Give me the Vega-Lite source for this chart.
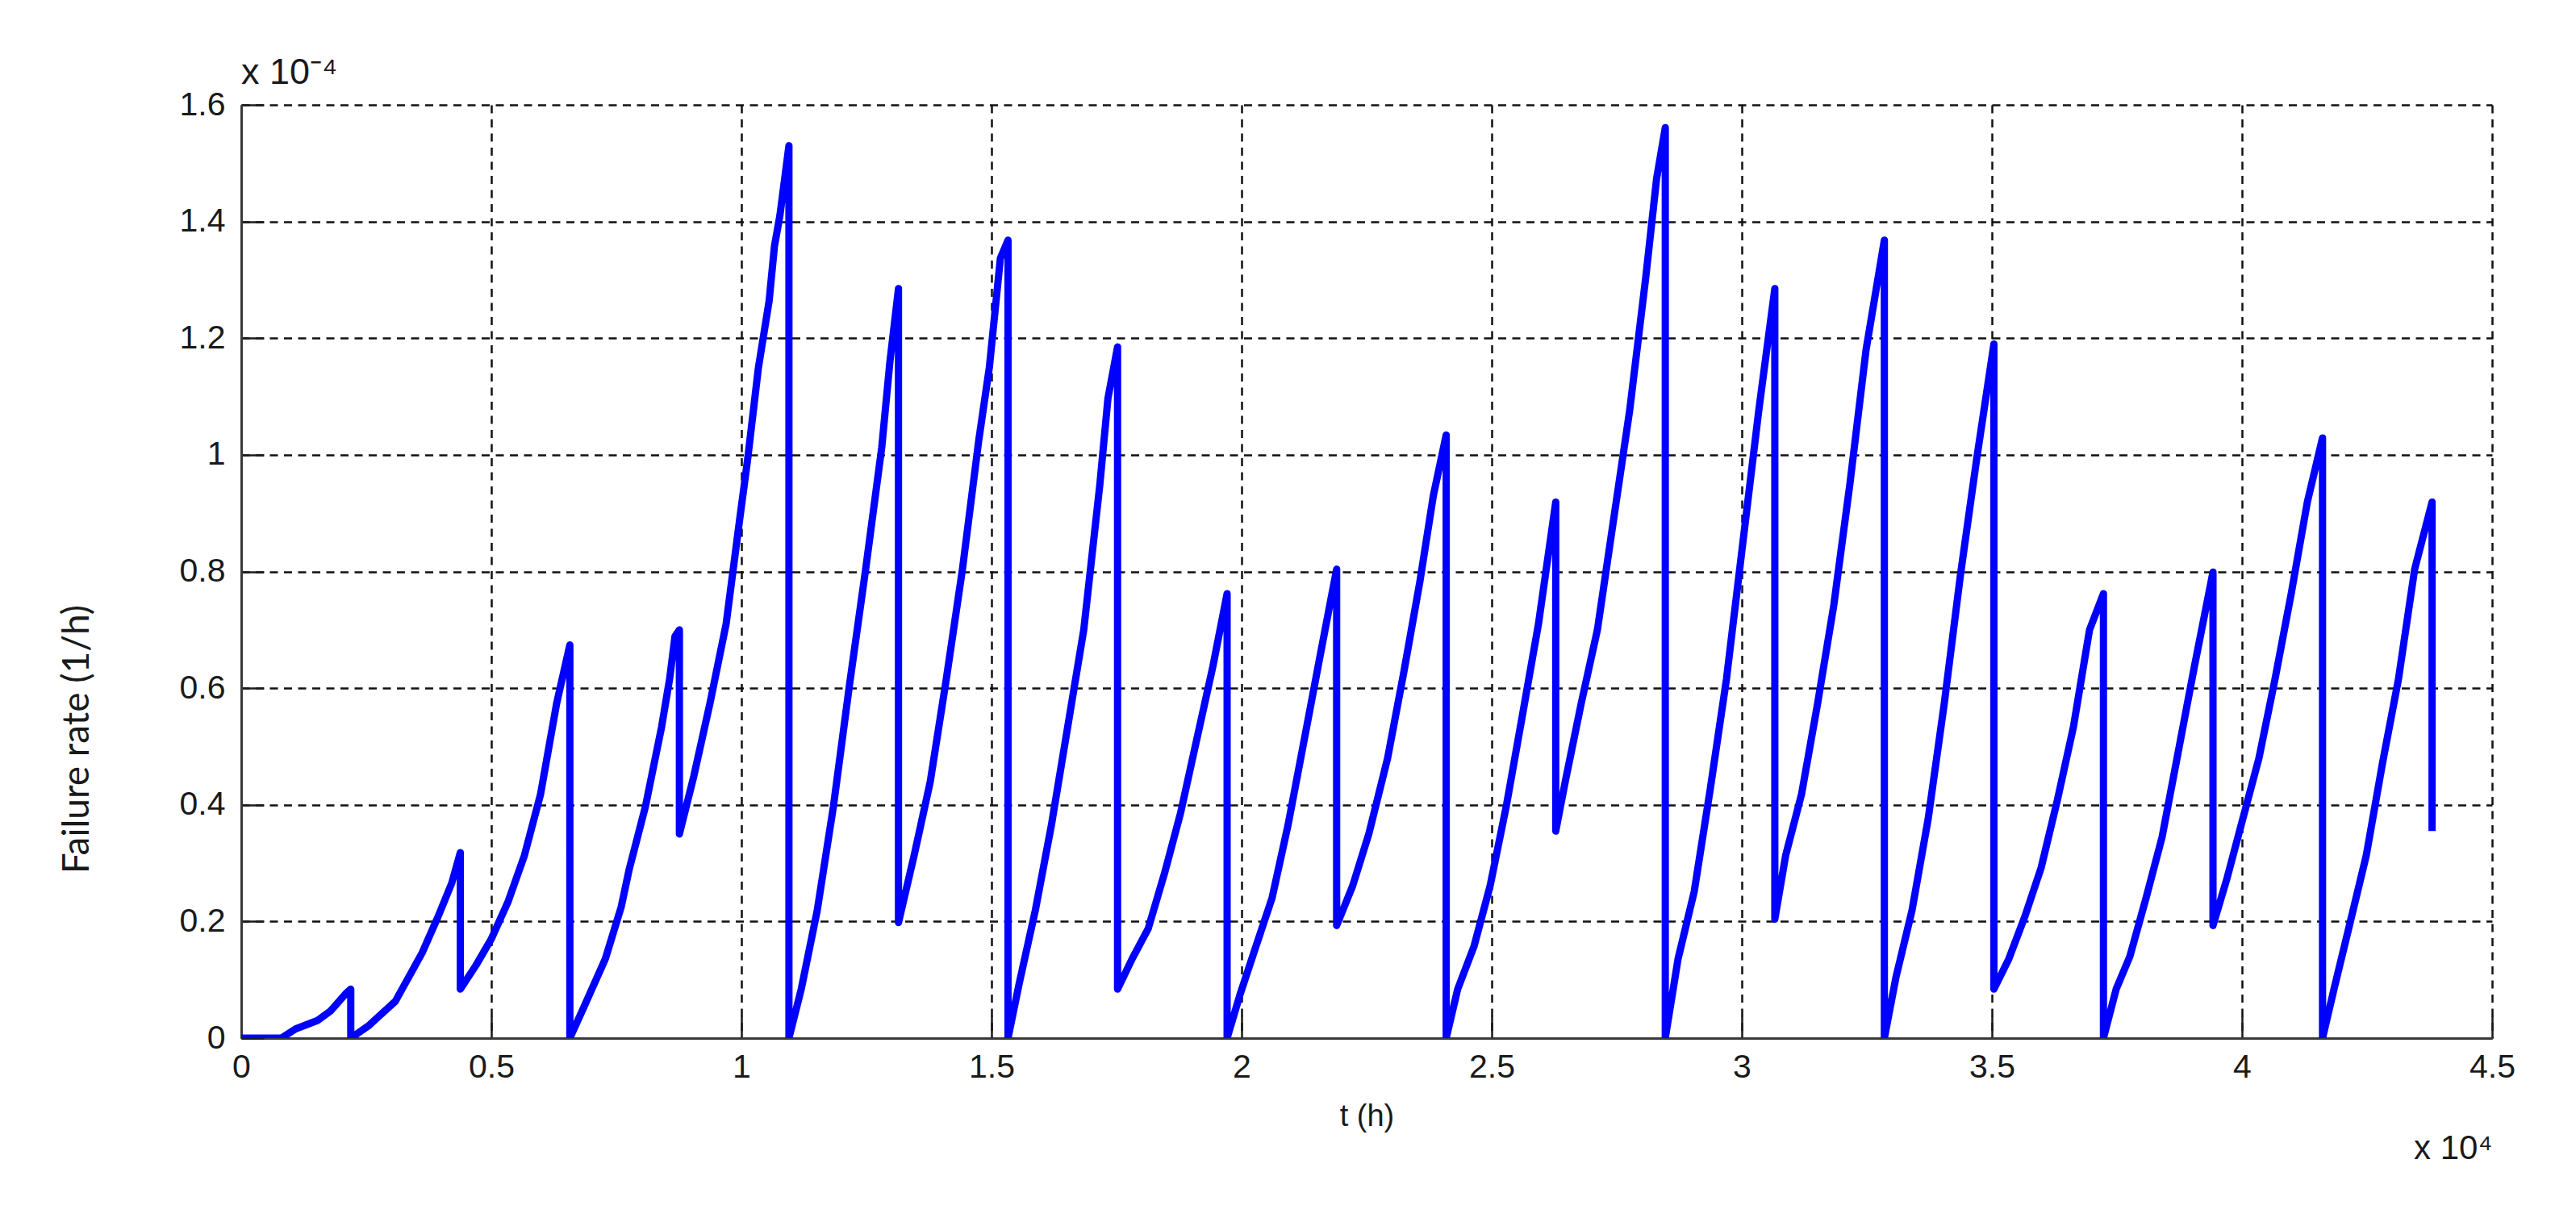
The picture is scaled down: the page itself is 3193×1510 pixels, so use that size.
{
  "$schema": "https://vega.github.io/schema/vega-lite/v6.json",
  "autosize": "none",
  "width": 2790,
  "height": 1157,
  "padding": {"left": 299, "top": 130, "right": 104, "bottom": 223},
  "background": "white",
  "title": {
    "text": "x 10⁻⁴",
    "anchor": "start",
    "frame": "group",
    "font": "Liberation Sans",
    "fontSize": 45,
    "fontWeight": "normal",
    "color": "#1a1a1a",
    "offset": -4
  },
  "data": {
    "values": [
      {"t":0,"rate":0},{"t":800,"rate":0},{"t":1090,"rate":0.016},{"t":1520,"rate":0.03},{"t":1790,"rate":0.047},{"t":2110,"rate":0.078},{"t":2190,"rate":0.084},
      {"t":2190,"rate":0},{"t":2543,"rate":0.021},{"t":3081,"rate":0.063},{"t":3616,"rate":0.146},{"t":3939,"rate":0.209},{"t":4210,"rate":0.266},{"t":4380,"rate":0.318},
      {"t":4380,"rate":0.084},{"t":4694,"rate":0.125},{"t":5000,"rate":0.17},{"t":5340,"rate":0.235},{"t":5661,"rate":0.313},{"t":5984,"rate":0.418},{"t":6306,"rate":0.574},{"t":6570,"rate":0.674},
      {"t":6570,"rate":0},{"t":6844,"rate":0.052},{"t":7280,"rate":0.136},{"t":7597,"rate":0.225},{"t":7758,"rate":0.29},{"t":8081,"rate":0.397},{"t":8403,"rate":0.533},{"t":8565,"rate":0.616},{"t":8672,"rate":0.689},{"t":8760,"rate":0.70},
      {"t":8760,"rate":0.35},{"t":9048,"rate":0.449},{"t":9371,"rate":0.574},{"t":9694,"rate":0.71},{"t":9963,"rate":0.888},{"t":10124,"rate":0.992},{"t":10339,"rate":1.149},{"t":10554,"rate":1.264},{"t":10661,"rate":1.358},{"t":10769,"rate":1.41},{"t":10950,"rate":1.53},
      {"t":10950,"rate":0},{"t":11196,"rate":0.084},{"t":11516,"rate":0.219},{"t":11839,"rate":0.397},{"t":12161,"rate":0.606},{"t":12484,"rate":0.804},{"t":12806,"rate":1.013},{"t":12968,"rate":1.159},{"t":13140,"rate":1.285},
      {"t":13140,"rate":0.198},{"t":13452,"rate":0.313},{"t":13774,"rate":0.439},{"t":14097,"rate":0.616},{"t":14419,"rate":0.804},{"t":14742,"rate":1.023},{"t":14957,"rate":1.15},{"t":15177,"rate":1.337},{"t":15330,"rate":1.368},
      {"t":15330,"rate":0},{"t":15554,"rate":0.094},{"t":15876,"rate":0.219},{"t":16199,"rate":0.366},{"t":16522,"rate":0.533},{"t":16844,"rate":0.70},{"t":17167,"rate":0.95},{"t":17328,"rate":1.097},{"t":17520,"rate":1.185},
      {"t":17520,"rate":0.084},{"t":17812,"rate":0.136},{"t":18134,"rate":0.188},{"t":18457,"rate":0.282},{"t":18780,"rate":0.386},{"t":19103,"rate":0.512},{"t":19425,"rate":0.637},{"t":19710,"rate":0.762},
      {"t":19710,"rate":0},{"t":19962,"rate":0.073},{"t":20285,"rate":0.157},{"t":20608,"rate":0.24},{"t":20930,"rate":0.366},{"t":21253,"rate":0.512},{"t":21575,"rate":0.658},{"t":21900,"rate":0.804},
      {"t":21900,"rate":0.193},{"t":22220,"rate":0.261},{"t":22543,"rate":0.35},{"t":22919,"rate":0.48},{"t":23242,"rate":0.627},{"t":23565,"rate":0.783},{"t":23833,"rate":0.93},{"t":24090,"rate":1.034},
      {"t":24090,"rate":0},{"t":24320,"rate":0.084},{"t":24645,"rate":0.157},{"t":24968,"rate":0.261},{"t":25290,"rate":0.397},{"t":25613,"rate":0.553},{"t":25935,"rate":0.71},{"t":26280,"rate":0.919},
      {"t":26280,"rate":0.355},{"t":26468,"rate":0.439},{"t":26790,"rate":0.574},{"t":27113,"rate":0.70},{"t":27435,"rate":0.888},{"t":27758,"rate":1.076},{"t":28081,"rate":1.305},{"t":28296,"rate":1.473},{"t":28470,"rate":1.561},
      {"t":28470,"rate":0},{"t":28726,"rate":0.136},{"t":29048,"rate":0.251},{"t":29371,"rate":0.428},{"t":29694,"rate":0.616},{"t":30016,"rate":0.846},{"t":30339,"rate":1.076},{"t":30660,"rate":1.285},
      {"t":30660,"rate":0.204},{"t":30876,"rate":0.313},{"t":31194,"rate":0.418},{"t":31516,"rate":0.574},{"t":31839,"rate":0.742},{"t":32161,"rate":0.95},{"t":32484,"rate":1.18},{"t":32850,"rate":1.368},
      {"t":32850,"rate":0},{"t":33081,"rate":0.104},{"t":33403,"rate":0.219},{"t":33726,"rate":0.376},{"t":34048,"rate":0.574},{"t":34371,"rate":0.794},{"t":34694,"rate":0.992},{"t":35040,"rate":1.19},
      {"t":35040,"rate":0.084},{"t":35339,"rate":0.136},{"t":35661,"rate":0.209},{"t":35984,"rate":0.292},{"t":36306,"rate":0.407},{"t":36629,"rate":0.533},{"t":36952,"rate":0.70},{"t":37230,"rate":0.762},
      {"t":37230,"rate":0},{"t":37484,"rate":0.084},{"t":37758,"rate":0.14},{"t":38081,"rate":0.24},{"t":38403,"rate":0.345},{"t":38726,"rate":0.491},{"t":39048,"rate":0.637},{"t":39420,"rate":0.799},
      {"t":39420,"rate":0.193},{"t":39694,"rate":0.272},{"t":40016,"rate":0.376},{"t":40339,"rate":0.48},{"t":40661,"rate":0.616},{"t":40984,"rate":0.762},{"t":41306,"rate":0.919},{"t":41610,"rate":1.029},
      {"t":41610,"rate":0},{"t":41839,"rate":0.084},{"t":42161,"rate":0.198},{"t":42484,"rate":0.313},{"t":42806,"rate":0.47},{"t":43129,"rate":0.616},{"t":43452,"rate":0.804},{"t":43800,"rate":0.919},
      {"t":43800,"rate":0.355}
    ]
  },
  "config": {
    "view": {"stroke": null},
    "axis": {
      "labelFont": "Liberation Sans",
      "labelFontSize": 41,
      "labelColor": "#1a1a1a",
      "titleColor": "#1a1a1a",
      "titleFontWeight": "normal",
      "domainColor": "#3a3a3a",
      "domainWidth": 3,
      "tickColor": "#1a1a1a",
      "tickWidth": 2.5,
      "tickSize": -28,
      "gridColor": "#111111",
      "gridOpacity": 1,
      "gridWidth": 2.5,
      "gridDash": [10, 7.5]
    }
  },
  "resolve": {"axis": {"x": "independent"}},
  "layer": [
    {
      "mark": {"type": "line", "color": "#0000FF", "strokeWidth": 9, "strokeJoin": "round", "strokeCap": "butt", "clip": true},
      "encoding": {
        "x": {
          "field": "t", "type": "quantitative",
          "scale": {"domain": [0, 45000], "nice": false, "zero": false},
          "axis": {
            "orient": "bottom",
            "values": [0,5000,10000,15000,20000,25000,30000,35000,40000,45000],
            "labelExpr": "format(datum.value/10000, '~g')",
            "labelPadding": 44,
            "labelFlush": false,
            "title": "t (h)",
            "titleFont": "Liberation Sans",
            "titleFontSize": 38,
            "titlePadding": 22
          }
        },
        "y": {
          "field": "rate", "type": "quantitative",
          "scale": {"domain": [0, 1.6], "nice": false},
          "axis": {
            "values": [0,0.2,0.4,0.6,0.8,1,1.2,1.4,1.6],
            "format": "~g",
            "labelPadding": 48,
            "labelFlush": false,
            "title": "Failure rate (1/h)",
            "titleFont": "Lato",
            "titleFontSize": 46,
            "titlePadding": 103,
            "titleY": 786
          }
        },
        "order": {"value": null}
      }
    },
    {
      "mark": {"type": "line", "opacity": 0},
      "encoding": {
        "x": {
          "field": "t", "type": "quantitative",
          "scale": {"domain": [0, 45000], "nice": false, "zero": false},
          "axis": {
            "orient": "bottom",
            "labels": false, "ticks": false, "domain": false, "grid": false,
            "title": "x 10⁴",
            "titleFont": "Liberation Sans",
            "titleFontSize": 42,
            "titleAnchor": "end",
            "titleAlign": "right",
            "titlePadding": 116
          }
        },
        "y": {"field": "rate", "type": "quantitative"},
        "order": {"value": null}
      }
    }
  ]
}
